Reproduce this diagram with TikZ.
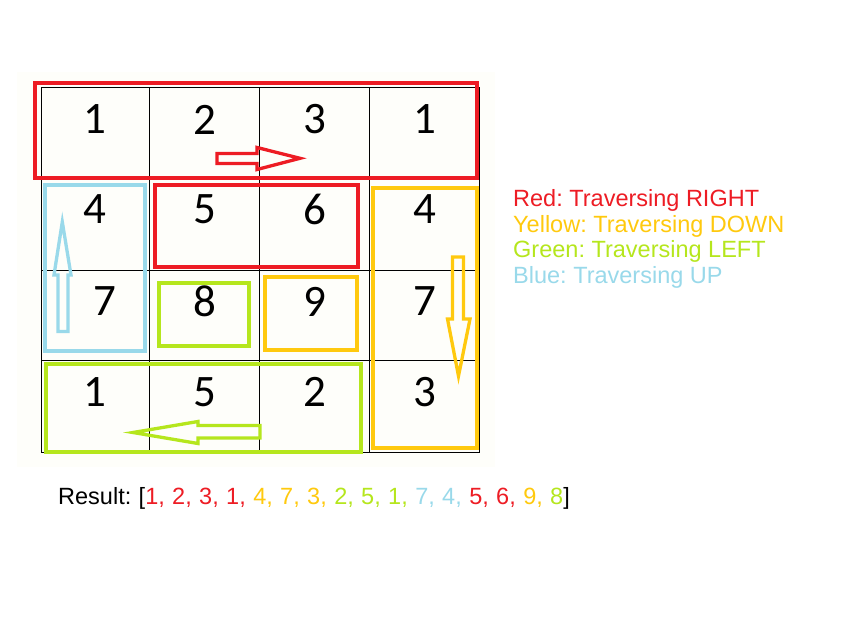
\documentclass[tikz,border=0pt]{standalone}
\usepackage{fontspec}
\setmainfont{Liberation Sans}
\newfontfamily\digitfont{Carlito}
\definecolor{pred}{HTML}{ED1C24}
\definecolor{pyel}{HTML}{FFC90E}
\definecolor{pgrn}{HTML}{B5E61D}
\definecolor{pblu}{HTML}{99D9EA}
\definecolor{cream}{HTML}{FEFEFA}
\newcommand{\widespaces}{\spaceskip=7.4pt plus 0pt minus 0pt\relax}
\begin{document}
\frenchspacing
\begin{tikzpicture}[x=1pt,y=-1pt,
  gridline/.style={black,line width=1pt},
  hbox/.style={line width=4.5pt},
  barrow/.style={line width=3.3pt,line join=miter},
  digit/.style={inner sep=0pt,font=\digitfont\fontsize{45}{45}\selectfont},
  legend/.style={inner sep=0pt,anchor=base west,font=\fontsize{23.5}{23.5}\selectfont\frenchspacing},
  result/.style={inner sep=0pt,anchor=base west,font=\fontsize{23.5}{23.5}\selectfont\frenchspacing}]
\useasboundingbox (0,0) rectangle (851,618);
\fill[cream] (17,72) rectangle (495,467);
% grid
\foreach \x in {41,149.5,259.5,369.5,479.5} \draw[gridline] (\x,87.5) -- (\x,452);
\foreach \y in {87.5,178,270.5,360,452} \draw[gridline] (41,\y) -- (479.5,\y);
% digits
\node[digit] (a11) at (95,119.5) {1};
\node[digit] (a12) at (205,119.5) {2};
\node[digit] (a13) at (315,119.5) {3};
\node[digit] (a14) at (425,119.5) {1};
\node[digit] (a21) at (95,209) {4};
\node[digit] (a22) at (205,209) {5};
\node[digit] (a23) at (315,209) {6};
\node[digit] (a24) at (425,209) {4};
\node[digit] (a31) at (105,301.5) {7};
\node[digit] (a32) at (205,301.5) {8};
\node[digit] (a33) at (315,301.5) {9};
\node[digit] (a34) at (425,301.5) {7};
\node[digit] (a41) at (95,392) {1};
\node[digit] (a42) at (205,392) {5};
\node[digit] (a43) at (315,392) {2};
\node[digit] (a44) at (425,392) {3};
% highlight boxes
\draw[hbox,pred] (35,83) rectangle (477,178);
\draw[hbox,pred] (155,185) rectangle (358,267);
\draw[hbox,pblu] (45,185) rectangle (145,351);
\draw[hbox,pyel] (373,188) rectangle (477,448);
\draw[hbox,pgrn] (159,283) rectangle (249,346);
\draw[hbox,pyel] (265,277) rectangle (357,350);
\draw[hbox,pgrn] (46,364) rectangle (361,452);
% arrows
\draw[barrow,pred] (217,153.5) -- (257,153.5) -- (257,147.5) -- (300,158.3) -- (257,169.5) -- (257,163.5) -- (217,163.5) -- cycle;
\draw[barrow,pyel] (452.5,257) -- (463.5,257) -- (463.5,319) -- (470,319) -- (458.5,376) -- (447.5,319) -- (452.5,319) -- cycle;
\draw[barrow,pgrn] (260,425.5) -- (198,425.5) -- (198,421.5) -- (133,432.5) -- (198,443.5) -- (198,438) -- (260,438) -- cycle;
\draw[barrow,pblu] (58,331.5) -- (68,331.5) -- (68,275) -- (71,275) -- (62.3,222) -- (54,275) -- (58,275) -- cycle;
% legend
\node[legend,text=pred] (lr) at (513,206.5) {Red: Traversing RIGHT};
\node[legend,text=pyel] (ly) at (513,232) {Yellow: Traversing DOWN};
\node[legend,text=pgrn] (lg) at (513,257.5) {Green: Traversing LEFT};
\node[legend,text=pblu] (lb) at (513,283) {Blue: Traversing UP};
% result
\node[result] (res) at (58,504) {\widespaces Result: [\textcolor{pred}{1, 2, 3, 1, }\textcolor{pyel}{4, 7, 3, }\textcolor{pgrn}{2, 5, 1, }\textcolor{pblu}{7, 4, }\textcolor{pred}{5, 6, }\textcolor{pyel}{9, }\textcolor{pgrn}{8}]};
\end{tikzpicture}
\end{document}
